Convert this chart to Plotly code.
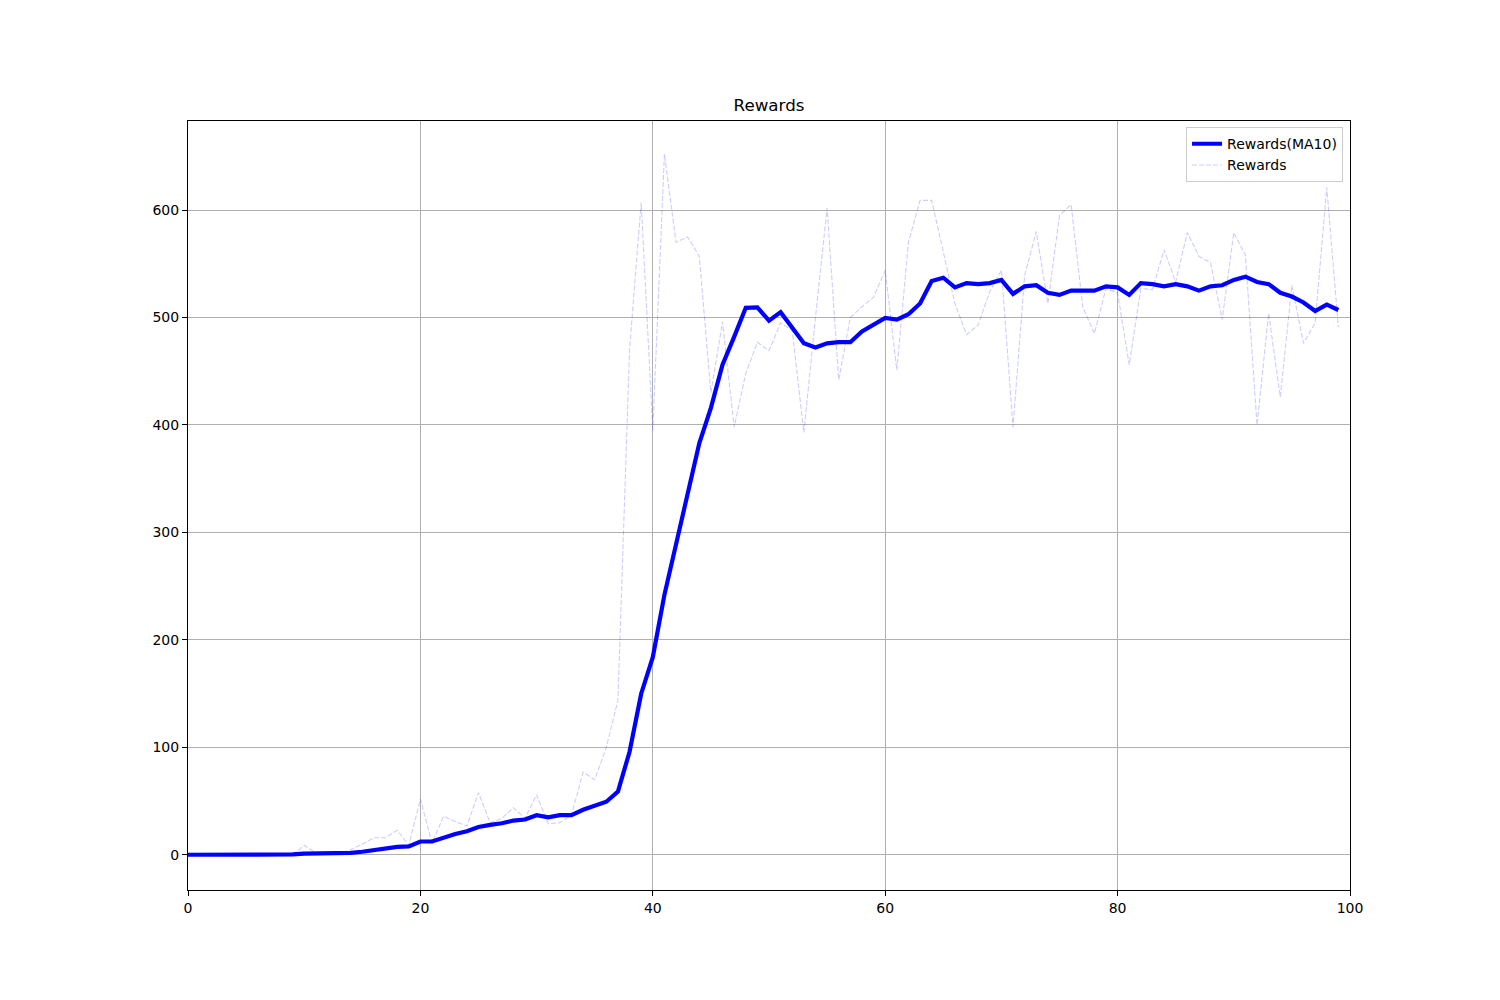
import plotly.graph_objects as go

episodes = list(range(100))

rewards = [0, 0, 0, 0, 1, 0, 1, 0, 1, 0,
           9, 2, 1, 1, 5, 10, 16, 16, 23, 9,
           52, 11, 36, 31, 27, 58, 30, 34, 44, 34,
           56, 29, 30, 37, 77, 70, 100, 144, 470, 607,
           395, 652, 570, 575, 557, 430, 496, 398, 448, 477,
           469, 495, 488, 393, 500, 602, 442, 500, 510, 519,
           544, 451, 570, 609, 609, 560, 513, 484, 493, 524,
           544, 398, 539, 580, 513, 595, 605, 510, 485, 527,
           523, 456, 527, 526, 563, 533, 579, 557, 551, 498,
           579, 558, 400, 504, 426, 530, 476, 495, 621, 491]

rewards_ma10 = [0.2, 0.2, 0.2, 0.3, 0.4, 0.4, 0.5, 0.5, 0.5, 0.5,
                1.2, 1.3, 1.4, 1.5, 2, 3, 4.5, 6, 7.5, 8,
                12.5, 12.5, 16.5, 19.5, 22, 26, 28, 29.5, 32, 33,
                37, 35, 37, 37, 42, 45.5, 49.5, 59, 96, 150,
                184, 242, 290, 338, 383, 416, 456, 482, 509, 509.5,
                497, 505, 491, 476, 472, 476, 477, 477, 487, 493,
                499.5, 498, 503, 513, 534, 537, 528, 532, 531, 532,
                535, 522, 529, 530, 523, 521, 525, 525, 525, 529,
                528, 521, 532, 531, 529, 531, 529, 525, 529, 530,
                535, 538, 533, 531, 523, 519.5, 514, 506, 512, 507]

x_ticks = [0, 20, 40, 60, 80, 100]
y_ticks = [0, 100, 200, 300, 400, 500, 600]

fig = go.Figure()
fig.add_trace(go.Scatter(x=episodes, y=rewards_ma10, mode="lines", name="Rewards(MA10)",
                         line=dict(color="rgb(0,0,255)", width=4.2)))
fig.add_trace(go.Scatter(x=episodes, y=rewards, mode="lines", name="Rewards",
                         line=dict(color="rgba(0,0,255,0.2)", width=1.1, dash="5px,2px")))

axis_common = dict(showline=True, mirror=True, linecolor="black", linewidth=1,
                   ticks="outside", ticklen=5, tickcolor="black", tickwidth=1,
                   showgrid=True, gridcolor="#b0b0b0", gridwidth=0.8, zeroline=False,
                   tickfont=dict(family="DejaVu Sans", size=14, color="black"))

fig.update_xaxes(range=[0, 100], tickvals=x_ticks, ticktext=[str(v) for v in x_ticks], **axis_common)
fig.update_yaxes(range=[-32.6, 682.8], tickvals=y_ticks, ticktext=[str(v) for v in y_ticks], **axis_common)

fig.update_layout(
    width=1500, height=1000,
    margin=dict(l=180, r=158, t=113, b=118),
    paper_bgcolor="white", plot_bgcolor="white",
    font=dict(family="DejaVu Sans", size=14, color="black"),
    title=dict(text="Rewards", x=0.5, xref="paper", xanchor="center",
               y=0.903, yref="container", yanchor="middle",
               font=dict(family="DejaVu Sans", size=16.7, color="black")),
    legend=dict(x=0.994, y=0.992, xanchor="right", yanchor="top",
                bordercolor="#cccccc", borderwidth=1, bgcolor="rgba(255,255,255,0.8)",
                font=dict(family="DejaVu Sans", size=14, color="black"),
                tracegroupgap=0),
    showlegend=True,
)

fig.write_html("out.html")
